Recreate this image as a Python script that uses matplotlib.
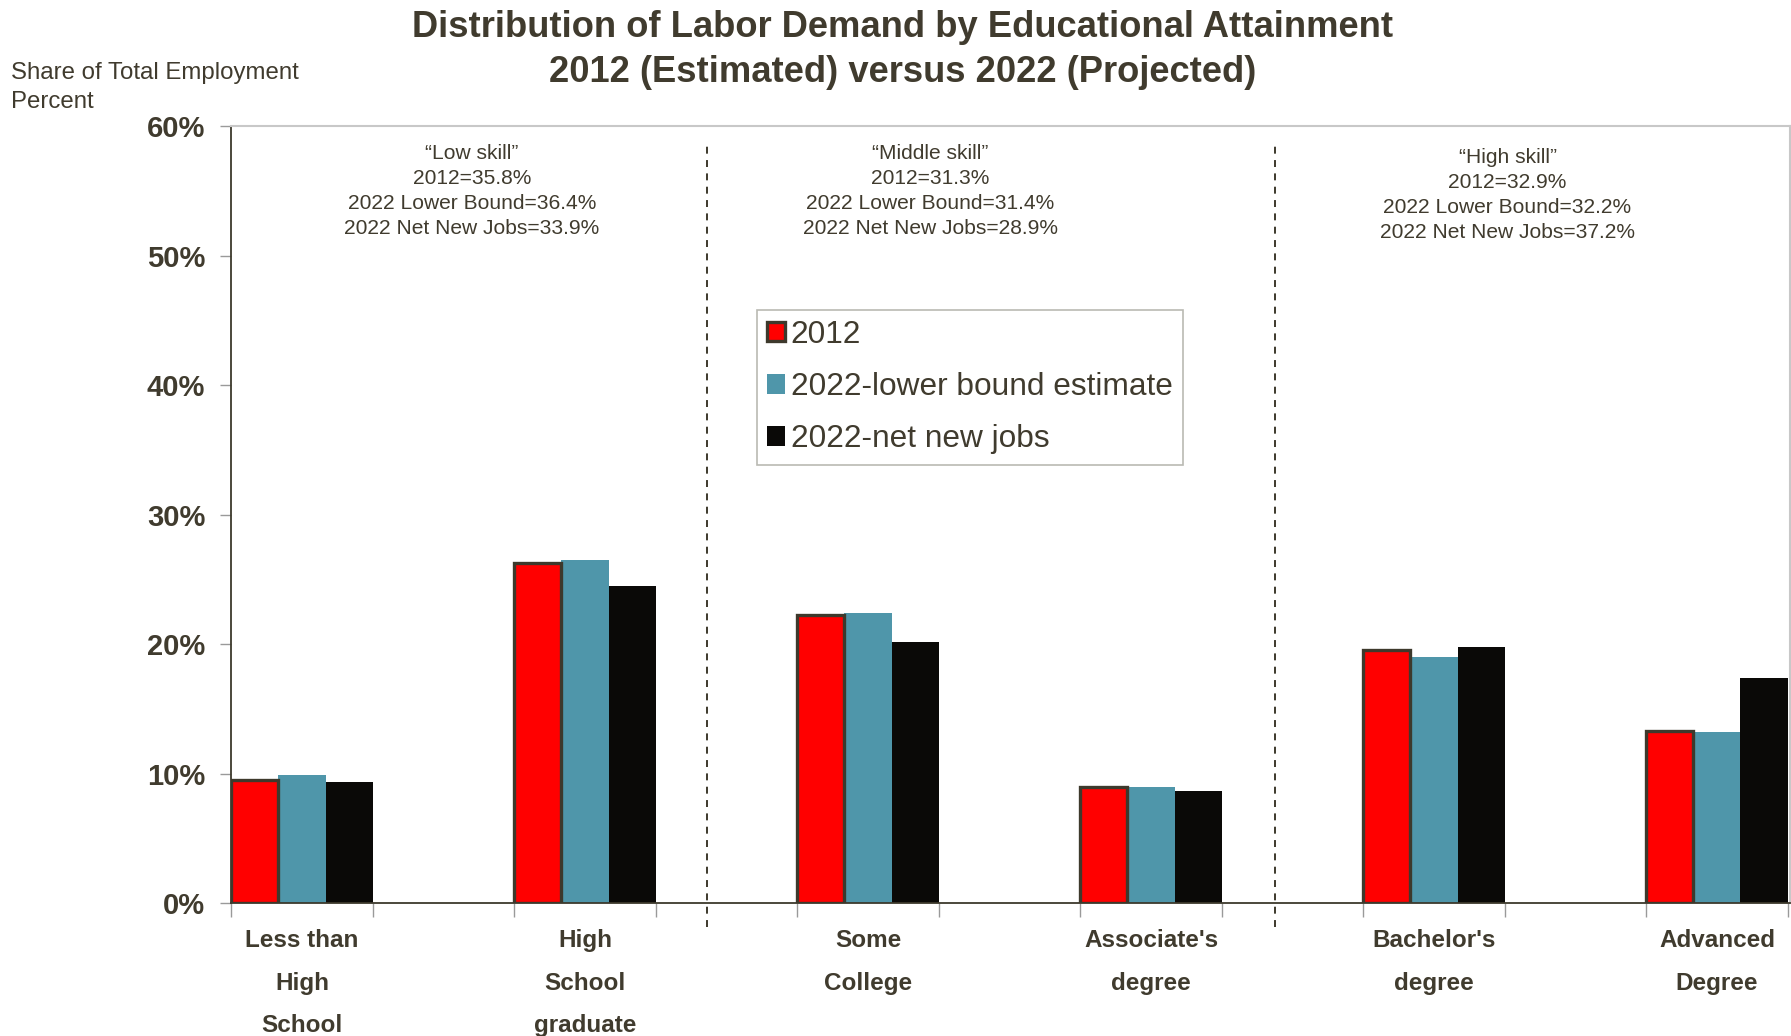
import numpy as np
import matplotlib.pyplot as plt

plt.rcParams['font.family'] = ['Liberation Sans', 'DejaVu Sans']
plt.rcParams['lines.scale_dashes'] = False

TXT = '#403b2e'

categories = ["Less than\nHigh\nSchool", "High\nSchool\ngraduate", "Some\nCollege",
              "Associate's\ndegree", "Bachelor's\ndegree", "Advanced\nDegree"]
share_2012 = [9.5, 26.3, 22.3, 9.0, 19.6, 13.3]
share_2022_lower = [9.9, 26.5, 22.4, 9.0, 19.0, 13.2]
share_2022_net = [9.4, 24.5, 20.2, 8.7, 19.8, 17.4]

skill_notes = [
    "\u201cLow skill\u201d\n2012=35.8%\n2022 Lower Bound=36.4%\n2022 Net New Jobs=33.9%",
    "\u201cMiddle skill\u201d\n2012=31.3%\n2022 Lower Bound=31.4%\n2022 Net New Jobs=28.9%",
    "\u201cHigh skill\u201d\n2012=32.9%\n2022 Lower Bound=32.2%\n2022 Net New Jobs=37.2%",
]

fig = plt.figure(figsize=(17.91, 10.36), dpi=100)
ax = fig.add_axes([0.129, 0.128, 0.8704, 0.75])

x = np.arange(len(categories))
w = 0.5 / 3
ax.bar(x - w, share_2012, w, color='#ff0000', edgecolor='#3d392c', linewidth=2.4,
       label='2012', zorder=3)
ax.bar(x, share_2022_lower, w, color='#4f96aa', linewidth=0,
       label='2022-lower bound estimate', zorder=2)
ax.bar(x + w, share_2022_net, w, color='#0a0907', linewidth=0,
       label='2022-net new jobs', zorder=2)

ax.set_xlim(-0.251, 5.258)
ax.set_ylim(0, 60)

# group separators
for xs in [1.43, 3.44]:
    ax.plot([xs, xs], [-1.8, 58.8], color='#3d392c', lw=1.4, dashes=(5, 4.6),
            clip_on=False, zorder=1)

# skill group notes
for xc, yc, note in zip([0.6, 2.22, 4.26], [58.65, 58.65, 58.35], skill_notes):
    ax.text(xc, yc, note, ha='center', va='top', fontsize=15.1, color=TXT,
            linespacing=1.4)

ax.set_yticks(np.arange(0, 61, 10))
ax.set_yticklabels([f'{v}%' for v in range(0, 61, 10)])
ax.tick_params(axis='y', direction='out', length=8, width=1, color='#9a9a9a',
               labelsize=21, labelcolor=TXT, pad=10.5)
for lab in ax.get_yticklabels():
    lab.set_fontweight('bold')

ax.set_xticks(np.arange(-0.25, 5.3, 0.5))
ax.set_xticklabels([])
ax.tick_params(axis='x', which='major', direction='out', length=10, width=1,
               color='#9a9a9a')
ax.set_xticks(x, minor=True)
ax.set_xticklabels(categories, minor=True, fontsize=17.5, fontweight='bold',
                   color=TXT, linespacing=2.08)
ax.tick_params(axis='x', which='minor', length=0, pad=18.5)

for side in ['left', 'bottom']:
    ax.spines[side].set_color('#3d392c')
    ax.spines[side].set_linewidth(1.3)
for side in ['top', 'right']:
    ax.spines[side].set_color('#c8c8c8')
    ax.spines[side].set_linewidth(1.5)

leg = ax.legend(loc='upper left', bbox_to_anchor=(757 / 1791, 1 - 309.5 / 1036),
                bbox_transform=fig.transFigure, fontsize=22.8, frameon=True,
                fancybox=False, handlelength=0.56, handleheight=0.56,
                handletextpad=0.17, borderpad=0.33, labelspacing=0.7,
                borderaxespad=0)
leg.get_frame().set_edgecolor('#a8a8a0')
leg.get_frame().set_linewidth(1.2)
for t in leg.get_texts():
    t.set_color(TXT)

fig.text(0.504, 1 - 27.5 / 1036, 'Distribution of Labor Demand by Educational Attainment',
         ha='center', va='center', fontsize=26.2, fontweight='bold', color=TXT)
fig.text(0.504, 1 - 72.5 / 1036, '2012 (Estimated) versus 2022 (Projected)',
         ha='center', va='center', fontsize=26.2, fontweight='bold', color=TXT)
fig.text(11 / 1791, 1 - 73 / 1036, 'Share of Total Employment', ha='left', va='center',
         fontsize=17.3, color=TXT)
fig.text(11 / 1791, 1 - 102 / 1036, 'Percent', ha='left', va='center',
         fontsize=17.3, color=TXT)

fig.savefig('out.png', dpi=100)
